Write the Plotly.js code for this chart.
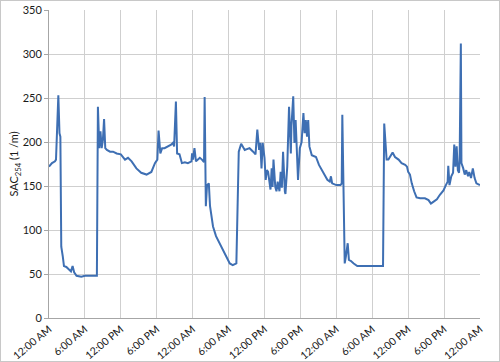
<!DOCTYPE html>
<html>
<head>
<meta charset="utf-8">
<script src="https://cdn.plot.ly/plotly-3.0.1.min.js"></script>
<style>
html,body{margin:0;padding:0;background:#fff;}
#chart{width:498px;height:360px;border:1px solid #c8c8c8;}
</style>
</head>
<body>
<div id="chart"></div>
<script>
// hours since start (3 days), SAC254 values (1/m)
var hours = [0,0.5,1,1.17,1.56,1.75,1.9,2.05,2.3,2.5,2.9,3.3,3.67,3.94,4.2,4.6,5.4,6,6.8,8,
  8.17,8.4,8.6,8.8,9,9.2,9.4,9.67,10.2,10.7,11.3,12,12.7,13.2,13.8,14.6,15.4,16.3,17.1,17.7,18.1,
  18.3,18.6,18.9,19.3,19.9,20.4,20.7,20.9,21.2,21.4,21.8,22.2,22.7,23.2,23.8,23.9,24.05,24.3,24.55,25.2,25.55,25.9,
  26,26.2,26.4,26.7,26.9,27.4,27.9,28.8,29.6,30.2,30.7,31.3,31.7,32.1,32.7,33.5,
  34.1,34.5,34.8,35.1,35.3,35.5,35.7,36,36.2,36.4,36.6,36.8,37,37.2,37.35,37.5,37.8,38,38.2,38.5,38.7,38.9,39.1,39.4,39.5,39.8,
  40.1,40.4,40.5,40.8,41,41.2,41.4,41.6,41.9,42.2,42.5,42.7,42.9,43.1,43.3,43.5,43.9,44.6,45.1,45.8,46.5,46.9,47.1,47.3,48,48.7,48.9,
  49,49.4,49.6,49.9,50.1,50.4,50.9,51.5,52.3,53.4,54.5,55.6,55.8,
  56,56.2,56.4,56.7,57,57.4,57.8,58.4,58.9,59.5,59.8,60,60.3,60.6,61,61.4,62,62.8,63.4,63.8,64.2,64.8,65.3,65.9,66.3,66.6,66.7,66.9,67.2,67.5,67.7,67.9,68.1,68.3,68.5,68.6,
  68.8,68.9,69.2,69.45,69.7,70,70.2,70.5,70.8,71.1,71.4,72];
var sac = [172,176,178,180,253,210,206,81,70,59,58,55,53,59,52,48,47,48,48,48,
  240,193,212,193,202,226,193,191,189,189,187,186,180,182,178,170,165,163,166,176,180,
  213,187,193,193,195,197,199,195,246,187,186,176,177,176,178,187,180,193,178,182,180,177,
  251,127,151,153,127,104,93,81,70,62,60,62,189,198,191,193,
  189,186,214,191,199,170,199,182,157,168,166,155,146,170,149,180,149,144,155,144,166,148,189,144,141,172,
  240,187,218,252,199,225,199,157,193,200,233,210,225,206,225,195,185,183,174,165,157,155,161,153,151,151,153,
  231,62,70,85,66,65,62,59,59,59,59,59,59,
  221,202,180,180,183,188,183,180,176,174,172,166,163,153,144,137,136,136,134,130,132,135,140,145,151,155,173,151,161,165,197,172,195,168,165,180,
  312,176,170,163,168,161,166,159,170,159,153,151];
var tickHours = [0,6,12,18,24,30,36,42,48,54,60,66,72];
var tickLabels = ["12:00 AM","6:00 AM","12:00 PM","6:00 PM","12:00 AM","6:00 AM","12:00 PM","6:00 PM","12:00 AM","6:00 AM","12:00 PM","6:00 PM","12:00 AM"];

var trace = {
  x: hours, y: sac, type: 'scatter', mode: 'lines',
  line: {color: '#3e6fb3', width: 2},
  hoverinfo: 'skip'
};
var layout = {
  width: 498, height: 360,
  margin: {l: 48, r: 19, t: 9, b: 43},
  paper_bgcolor: '#fff', plot_bgcolor: '#fff',
  showlegend: false,
  font: {family: 'Lato, "Open Sans", sans-serif', size: 11, color: '#1a1a1a'},
  xaxis: {
    range: [0, 72], tickvals: tickHours, ticktext: tickLabels,
    tickangle: -40, showgrid: true, gridcolor: '#cfcfcf', gridwidth: 1,
    zeroline: false, showline: true, linecolor: '#a6a6a6', linewidth: 1,
    ticks: '', ticklabelstandoff: 0,
    tickfont: {size: 10.5, color: '#1a1a1a'}, fixedrange: true
  },
  yaxis: {
    range: [0, 350], dtick: 50, tick0: 0,
    showgrid: true, gridcolor: '#cfcfcf', gridwidth: 1,
    zeroline: false, showline: true, linecolor: '#a6a6a6', linewidth: 1,
    ticks: 'outside', ticklen: 4, tickcolor: '#a6a6a6',
    tickfont: {size: 11, color: '#1a1a1a'},
    title: {text: 'SAC<sub>254</sub> (1 /m)', font: {size: 11, color: '#1a1a1a'}, standoff: 0},
    fixedrange: true
  }
};
Plotly.newPlot('chart', [trace], layout, {displayModeBar: false, staticPlot: true});
</script>
</body>
</html>
